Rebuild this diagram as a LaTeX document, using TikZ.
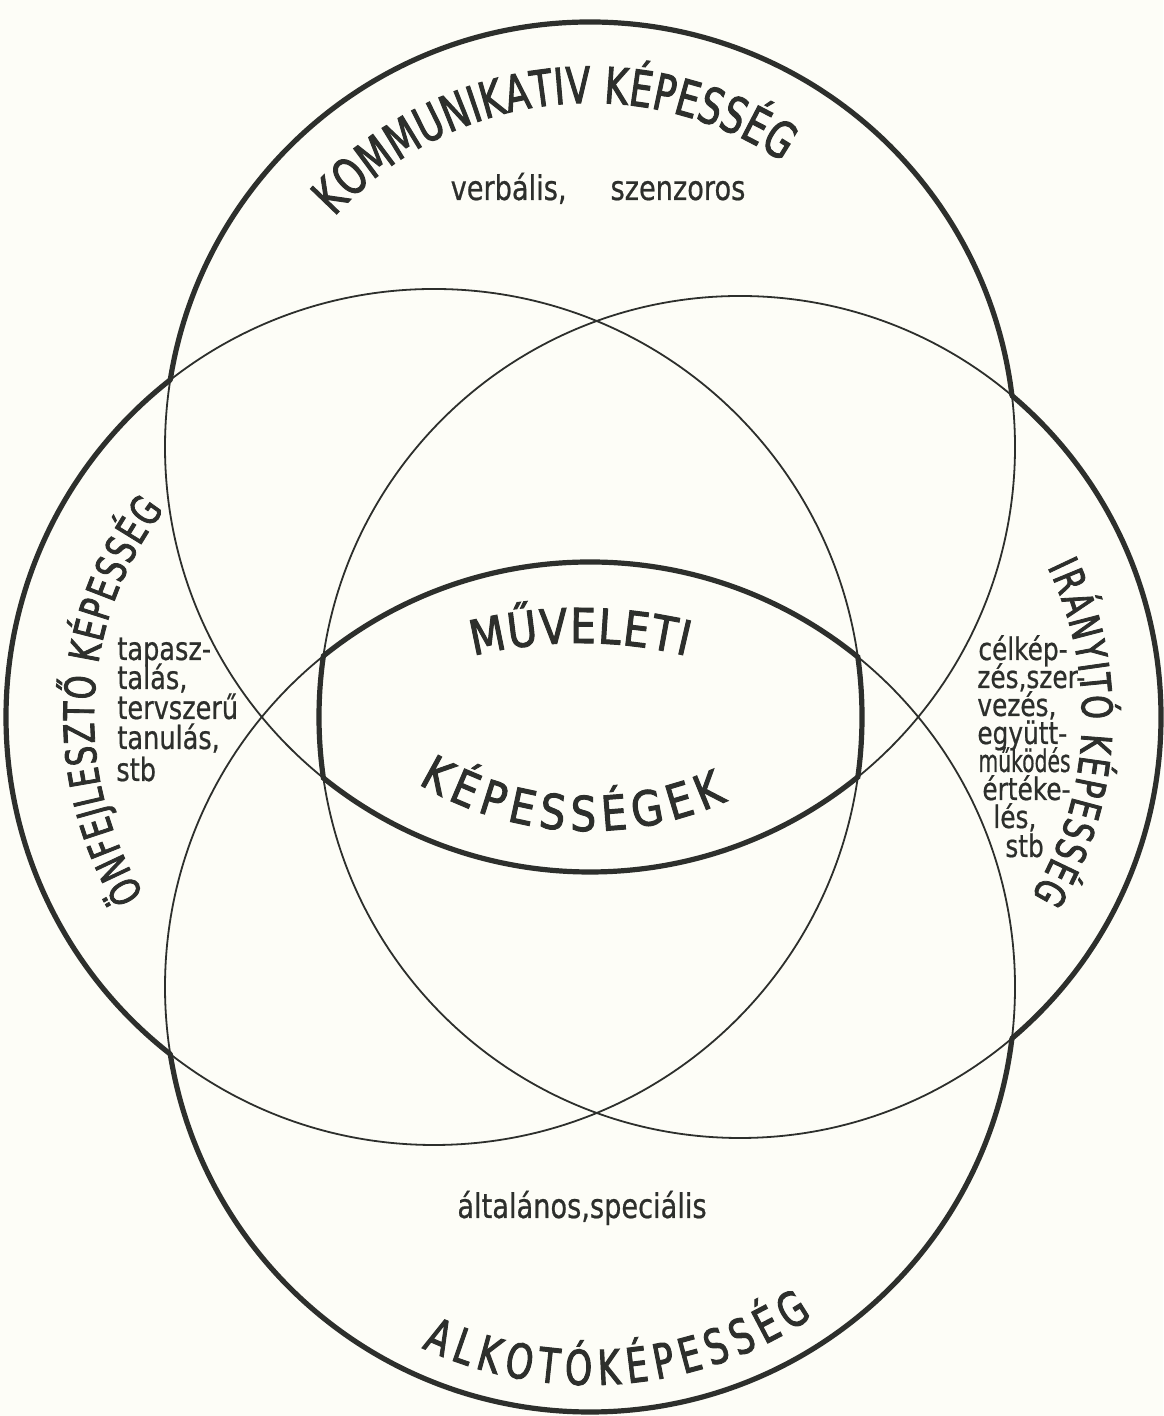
\documentclass[tikz,border=0pt]{standalone}
\usepackage{fontspec}
\newfontfamily\stencil[FakeStretch=0.8,FakeBold=0.6]{DejaVu Sans}
\newfontfamily\titlefont[FakeStretch=0.72,FakeBold=2]{DejaVu Sans}
\newfontfamily\centerfont[FakeStretch=0.85,FakeBold=2]{DejaVu Sans}
\usetikzlibrary{decorations.text,calc}
\definecolor{ink}{RGB}{45,47,44}
\definecolor{paper}{RGB}{253,253,247}
\begin{document}
\begin{tikzpicture}[x=0.5pt,y=0.5pt,
  thinline/.style={draw=ink,line width=0.9pt},
  thickline/.style={draw=ink,line width=2.6pt},
  arctext/.style={decorate,decoration={text along path,text align={fit to path},text color=ink}},
  smalltext/.style={text=ink,inner sep=0pt,font=\stencil\fontsize{16}{15}\selectfont},
  righttext/.style={text=ink,inner sep=0pt,font=\stencil\fontsize{15.5}{14}\selectfont},
  outside/.style={insert path={(-50,-50) -- (-50,1500) -- (1250,1500) -- (1250,-50) -- cycle}}
]
\useasboundingbox[fill=paper] (0,0) rectangle (1163,1416);

% circle centres
\coordinate (cT) at (590,969);
\coordinate (cB) at (590,429);
\coordinate (cL) at (434,699);
\coordinate (cR) at (740,699);
\coordinate (cM) at (580,326);
\coordinate (cK) at (589,917);

% thin full circles
\draw[thinline] (cT) circle[radius=425] (cB) circle[radius=425]
                (cL) circle[radius=428] (cR) circle[radius=421];

% thick outer boundary (each circle outside the others)
\begin{scope}[even odd rule]
  \clip[outside] (cB) circle[radius=423];
  \clip[outside] (cL) circle[radius=426];
  \clip[outside] (cR) circle[radius=419];
  \draw[thickline] (cT) circle[radius=425];
\end{scope}
\begin{scope}[even odd rule]
  \clip[outside] (cT) circle[radius=423];
  \clip[outside] (cL) circle[radius=426];
  \clip[outside] (cR) circle[radius=419];
  \draw[thickline] (cB) circle[radius=425];
\end{scope}
\begin{scope}[even odd rule]
  \clip[outside] (cT) circle[radius=423];
  \clip[outside] (cB) circle[radius=423];
  \clip[outside] (cR) circle[radius=419];
  \draw[thickline] (cL) circle[radius=428];
\end{scope}
\begin{scope}[even odd rule]
  \clip[outside] (cT) circle[radius=423];
  \clip[outside] (cB) circle[radius=423];
  \clip[outside] (cL) circle[radius=426];
  \draw[thickline] (cR) circle[radius=421];
\end{scope}

% thick central lens (intersection of all four)
\begin{scope}
  \clip (cT) circle[radius=427.6];
  \clip (cB) circle[radius=427.6];
  \clip (cL) circle[radius=430.6];
  \clip (cR) circle[radius=423.6];
  \draw[thickline] (cT) circle[radius=425] (cB) circle[radius=425]
                   (cL) circle[radius=428] (cR) circle[radius=421];
\end{scope}

% curved titles
\path[arctext,decoration={text={|\titlefont\fontsize{25}{28}\selectfont|KOMMUNIKATIV KÉPESSÉG}}]
  ($(cT)+(138:344)$) arc[start angle=138,end angle=56,radius=344];
\path[arctext,decoration={text={|\titlefont\fontsize{21}{24}\selectfont|ÖNFEJLESZTŐ KÉPESSÉG}}]
  ($(cL)+(211.5:340)$) arc[start angle=211.5,end angle=142.5,radius=340];
\path[arctext,decoration={text={|\titlefont\fontsize{21}{24}\selectfont|IRÁNYITÓ KÉPESSÉG}}]
  ($(cR)+(26:342)$) arc[start angle=26,end angle=-31.5,radius=342];
\path[arctext,decoration={text={|\titlefont\fontsize{24}{27}\selectfont|ALKOTÓKÉPESSÉG}}]
  ($(cB)+(245:398)$) arc[start angle=245,end angle=304,radius=398];
\path[arctext,decoration={text={|\centerfont\fontsize{24}{27}\selectfont|MŰVELETI}}]
  ($(cM)+(103.8:447)$) arc[start angle=103.8,end angle=76.2,radius=447];
\path[arctext,decoration={text={|\centerfont\fontsize{24}{27}\selectfont|KÉPESSÉGEK}}]
  ($(cK)+(239:332)$) arc[start angle=239,end angle=294.6,radius=332];

% small horizontal texts
\node[smalltext,font=\stencil\fontsize{17}{18}\selectfont,anchor=base] (verb) at (598,1216) {verbális,\hspace{22pt}szenzoros};
\node[smalltext,font=\stencil\fontsize{17}{18}\selectfont,anchor=base] (alt) at (582,198) {általános,speciális};

\node[smalltext,anchor=base west] (l1) at (117,756) {tapasz-};
\node[smalltext,anchor=base west] (l2) at (117,727) {talás,};
\node[smalltext,anchor=base west] (l3) at (117,697) {tervszerű};
\node[smalltext,anchor=base west] (l4) at (117,667) {tanulás,};
\node[smalltext,anchor=base west] (l5) at (116,635) {stb};

\node[righttext,anchor=base west] (r1) at (978,756) {célkép-};
\node[righttext,anchor=base west] (r2) at (977,728) {zés,szer-};
\node[righttext,anchor=base west] (r3) at (977,700) {vezés,};
\node[righttext,anchor=base west] (r4) at (977,672) {együtt-};
\node[righttext,anchor=base west] (r5) at (978,644) {\scalebox{0.82}[1]{működés}};
\node[righttext,anchor=base west] (r6) at (982,616) {értéke-};
\node[righttext,anchor=base west] (r7) at (993,588) {lés,};
\node[righttext,anchor=base west] (r8) at (1005,559) {stb};
\end{tikzpicture}
\end{document}
